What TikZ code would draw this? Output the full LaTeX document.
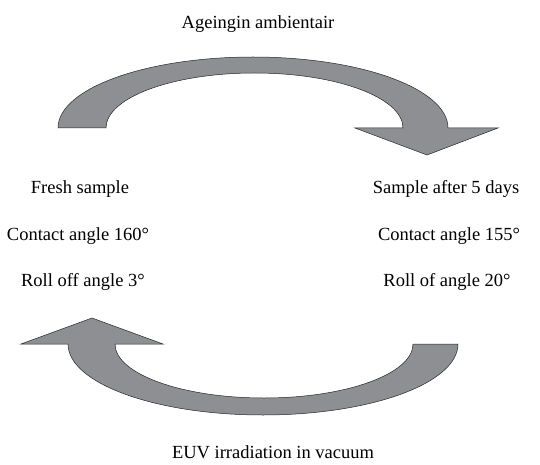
\documentclass[tikz,border=0pt]{standalone}
\usepackage{fontspec}
\setmainfont{Liberation Serif}
\usetikzlibrary{positioning}
\definecolor{gris_flecha}{RGB}{142,143,147}
\tikzset{
    texto/.style={font=\fontsize{18.5}{22}\selectfont, inner sep=0pt, text height=13pt, text depth=4pt, align=center},
    flecha_curva/.style={fill=gris_flecha, draw=black!85, line width=0.5pt, line join=miter}
}

\begin{document}
\begin{tikzpicture}[x=1pt, y=1pt]
    % Marco de la figura
    \useasboundingbox (0,0) rectangle (540,464);

    % 1. Flecha superior (envejecimiento)
    \coordinate (sup_ext) at (58,336);
    \coordinate (sup_int) at (403,336);
    \draw[flecha_curva] (sup_ext)
        arc[start angle=180, end angle=0, x radius=195, y radius=71]
        -- (498,336) -- (427,309) -- (355,336) -- (sup_int)
        arc[start angle=0, end angle=180, x radius=148.5, y radius=55]
        -- cycle;

    % 2. Flecha inferior (irradiacion)
    \coordinate (inf_ext) at (458,120);
    \coordinate (inf_int) at (115,120);
    \draw[flecha_curva] (inf_ext)
        arc[start angle=0, end angle=-180, x radius=195, y radius=71]
        -- (21,120) -- (92,146) -- (163,120) -- (inf_int)
        arc[start angle=180, end angle=360, x radius=149, y radius=54]
        -- cycle;

    % 3. Textos
    \node[texto] (ageing) at (258,440) {Ageingin ambientair};
    \node[texto] (euv) at (273,10) {EUV irradiation in vacuum};

    \node[texto] (fresh) at (80,275) {Fresh sample};
    \node[texto] (ca_fresh) at (78,228) {Contact angle 160°};
    \node[texto] (ro_fresh) at (83,182) {Roll off angle 3°};

    \node[texto] (aged) at (446,275) {Sample after 5 days};
    \node[texto] (ca_aged) at (449,228) {Contact angle 155°};
    \node[texto] (ro_aged) at (447,182) {Roll of angle 20°};
\end{tikzpicture}
\end{document}
